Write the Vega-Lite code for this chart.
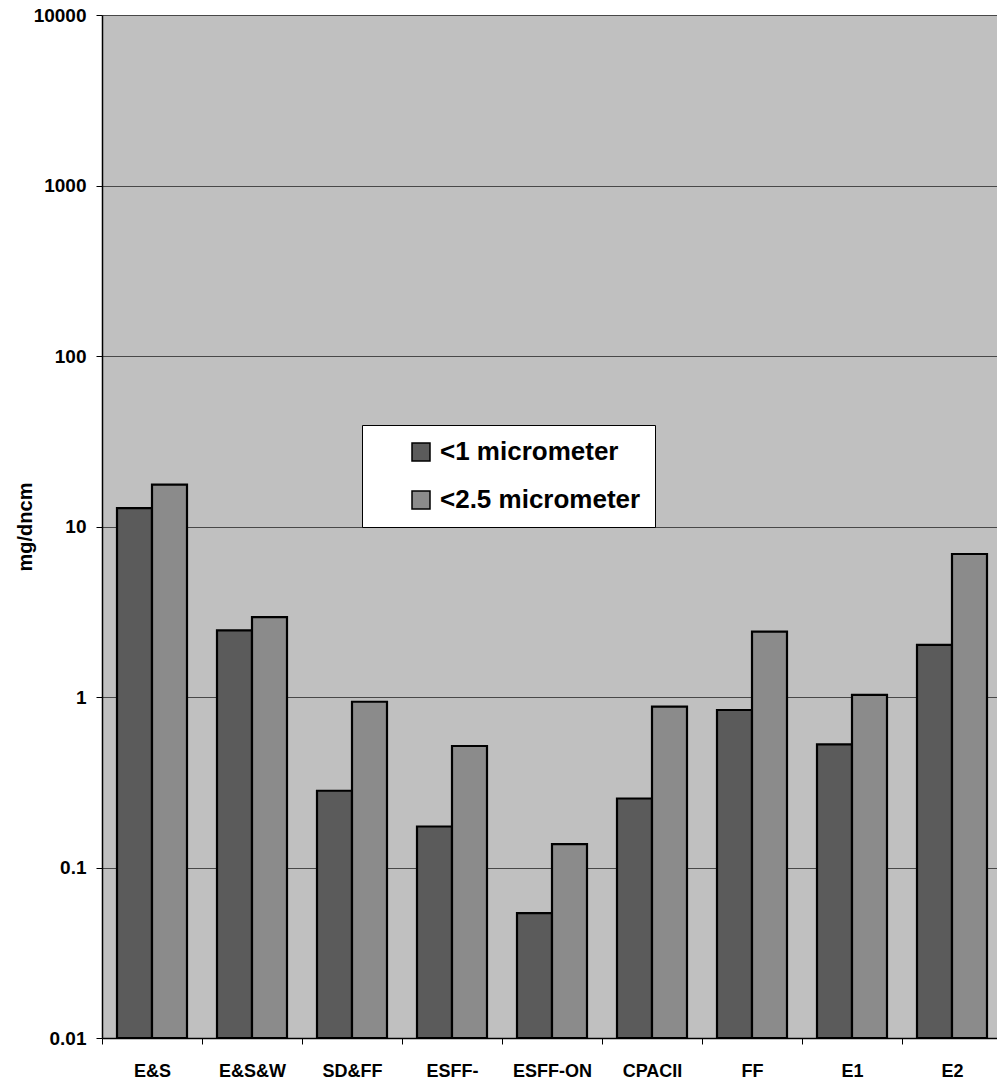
{
  "$schema": "https://vega.github.io/schema/vega-lite/v6.json",
  "autosize": "none",
  "padding": {"left": 102, "top": 15, "right": 0, "bottom": 44},
  "width": 900,
  "height": 1023,
  "background": "white",
  "config": {
    "view": {"fill": "#c0c0c0", "stroke": null},
    "font": "Liberation Sans"
  },
  "data": {
    "values": [
      {"site": "E&S", "size": "<1 micrometer", "value": 12.8},
      {"site": "E&S", "size": "<2.5 micrometer", "value": 17.6},
      {"site": "E&S&W", "size": "<1 micrometer", "value": 2.46},
      {"site": "E&S&W", "size": "<2.5 micrometer", "value": 2.94},
      {"site": "SD&FF", "size": "<1 micrometer", "value": 0.282},
      {"site": "SD&FF", "size": "<2.5 micrometer", "value": 0.938},
      {"site": "ESFF-", "size": "<1 micrometer", "value": 0.174},
      {"site": "ESFF-", "size": "<2.5 micrometer", "value": 0.516},
      {"site": "ESFF-ON", "size": "<1 micrometer", "value": 0.054},
      {"site": "ESFF-ON", "size": "<2.5 micrometer", "value": 0.137},
      {"site": "CPACII", "size": "<1 micrometer", "value": 0.254},
      {"site": "CPACII", "size": "<2.5 micrometer", "value": 0.877},
      {"site": "FF", "size": "<1 micrometer", "value": 0.839},
      {"site": "FF", "size": "<2.5 micrometer", "value": 2.42},
      {"site": "E1", "size": "<1 micrometer", "value": 0.528},
      {"site": "E1", "size": "<2.5 micrometer", "value": 1.03},
      {"site": "E2", "size": "<1 micrometer", "value": 2.02},
      {"site": "E2", "size": "<2.5 micrometer", "value": 6.9}
    ]
  },
  "mark": {"type": "bar", "stroke": "black", "strokeWidth": 2.2, "strokeJoin": "miter"},
  "encoding": {
    "x": {
      "field": "site",
      "type": "nominal",
      "sort": null,
      "scale": {"paddingInner": 0.3, "paddingOuter": 0.15},
      "axis": {
        "title": null,
        "labelAngle": 0,
        "labelFont": "Liberation Sans",
        "labelFontWeight": "bold",
        "labelFontSize": 18,
        "labelColor": "black",
        "labelPadding": 18,
        "labelBaseline": "top",
        "labelOffset": 15,
        "tickSize": 6,
        "tickColor": "black",
        "tickWidth": 1,
        "bandPosition": 0,
        "tickOffset": -15,
        "domainColor": "black",
        "domainWidth": 1.5,
        "grid": false
      }
    },
    "xOffset": {"field": "size", "type": "nominal", "scale": {"paddingInner": 0, "paddingOuter": 0}},
    "y": {
      "field": "value",
      "type": "quantitative",
      "scale": {"type": "log", "domain": [0.01, 10000], "nice": false},
      "axis": {
        "title": "mg/dncm",
        "titleFont": "Liberation Sans",
        "titleFontWeight": "bold",
        "titleFontSize": 20,
        "titleColor": "black",
        "titlePadding": -2,
        "values": [0.01, 0.1, 1, 10, 100, 1000, 10000],
        "format": "~g",
        "labelFont": "Liberation Sans",
        "labelFontWeight": "bold",
        "labelFontSize": 19,
        "labelColor": "black",
        "labelPadding": 10,
        "tickSize": 6,
        "tickColor": "black",
        "domainColor": "black",
        "domainWidth": 1.5,
        "grid": true,
        "gridColor": "#484848",
        "gridWidth": 1,
        "gridOpacity": 1
      }
    },
    "y2": {"datum": 0.01},
    "fill": {
      "field": "size",
      "type": "nominal",
      "scale": {"domain": ["<1 micrometer", "<2.5 micrometer"], "range": ["#5b5b5b", "#8b8b8b"]},
      "legend": {
        "title": null,
        "orient": "none",
        "legendX": 260,
        "legendY": 410,
        "fillColor": "white",
        "strokeColor": "black",
        "padding": 14,
        "symbolType": "square",
        "symbolSize": 324,
        "symbolStrokeColor": "black",
        "symbolStrokeWidth": 1.5,
        "symbolOffset": 32,
        "labelOffset": 6,
        "labelFont": "Liberation Sans",
        "labelFontWeight": "bold",
        "labelFontSize": 26,
        "labelColor": "black",
        "labelLimit": 400,
        "rowPadding": 22
      }
    }
  }
}
